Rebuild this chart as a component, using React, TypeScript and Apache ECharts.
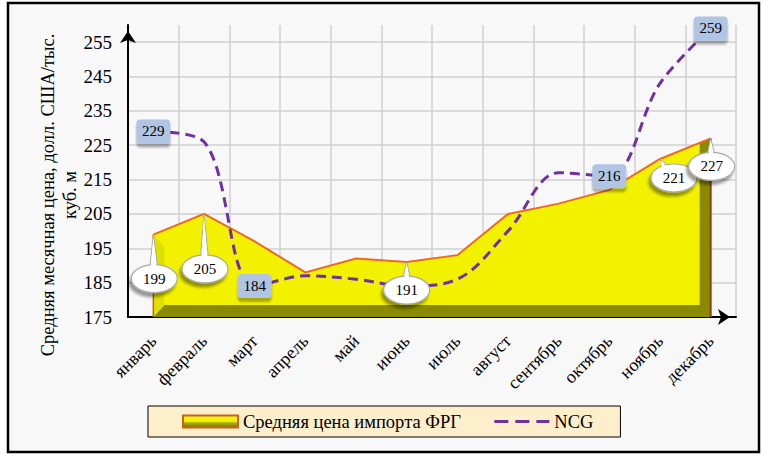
import React, { useEffect, useRef } from 'react';
import * as echarts from 'echarts';

// ---- data ----
const MONTHS = ['январь', 'февраль', 'март', 'апрель', 'май', 'июнь', 'июль', 'август', 'сентябрь', 'октябрь', 'ноябрь', 'декабрь'];
const GERMANY_IMPORT = [199, 205, 197, 188, 192, 191, 193, 205, 208, 212, 221, 227];
const NCG = [229, 226, 184, 187, 186, 184, 186, 200, 217, 216, 243, 259];
const Y_TICKS = [175, 185, 195, 205, 215, 225, 235, 245, 255];
const Y_MIN = 175;
const Y_MAX = 260;
const IMPORT_LABELED = [0, 1, 5, 10, 11];
const NCG_LABELED = [0, 2, 9, 11];
const SERIES_IMPORT = 'Средняя цена импорта ФРГ';
const SERIES_NCG = 'NCG';
const Y_TITLE = 'Средняя месячная цена, долл. США/тыс.\nкуб. м';

// ---- layout / style ----
const FONT = 'Liberation Serif';
const BUBBLE_OFFSET: Record<number, [number, number]> = {
  0: [1, 44],
  1: [1, 55],
  5: [0, 28],
  10: [14, 19],
  11: [1, 28],
};
const DEPTH_X = 11;
const DEPTH_Y = 12;
const YELLOW = '#f2f200';
const OLIVE = '#8a8a00';
const PURPLE = '#7030a0';

const legendGradient = {
  type: 'linear', x: 0, y: 0, x2: 0, y2: 1,
  colorStops: [
    { offset: 0, color: '#f8f820' },
    { offset: 0.5, color: '#eeee00' },
    { offset: 0.62, color: '#a8a800' },
    { offset: 1, color: '#7a7a00' },
  ],
};

function renderBody(params: any, api: any) {
  if (params.dataIndex !== 0) return { type: 'group', children: [] };
  const n = GERMANY_IMPORT.length;
  const pts = GERMANY_IMPORT.map((v, i) => api.coord([i, v]));
  const base = api.coord([0, Y_MIN])[1];
  const first = pts[0];
  const last = pts[n - 1];
  const prev = pts[n - 2];
  const cutX = last[0] - DEPTH_X;
  const t = (cutX - prev[0]) / (last[0] - prev[0]);
  const cutY = prev[1] + t * (last[1] - prev[1]);
  const olive = [...pts, [last[0], base], [first[0], base]];
  const yellow = [
    ...pts.slice(0, n - 1),
    [cutX, cutY],
    [cutX, base - DEPTH_Y],
    [first[0] + DEPTH_X, base - DEPTH_Y],
    [first[0], base],
  ];
  const bevel = [
    first,
    [first[0] + DEPTH_X, first[1] + DEPTH_Y],
    [first[0] + DEPTH_X, base - DEPTH_Y],
    [first[0], base],
  ];
  return {
    type: 'group',
    children: [
      { type: 'polygon', shape: { points: olive }, style: { fill: OLIVE } },
      { type: 'polygon', shape: { points: yellow }, style: { fill: YELLOW } },
      { type: 'polygon', shape: { points: bevel }, style: { fill: '#e0e000' } },
      { type: 'line', shape: { x1: last[0], y1: last[1], x2: last[0], y2: base }, style: { stroke: '#8b3f10', lineWidth: 2 } },
      { type: 'line', shape: { x1: first[0], y1: first[1], x2: first[0], y2: base }, style: { stroke: '#c8601a', lineWidth: 1.5 } },
      { type: 'polyline', shape: { points: pts }, style: { stroke: '#ec6a1e', lineWidth: 2, fill: 'none' } },
    ],
  };
}

function renderBubble(params: any, api: any) {
  const idx = api.value(0) as number;
  const val = api.value(1) as number;
  const [px, py] = api.coord([idx, val]);
  const off = BUBBLE_OFFSET[idx] || [0, 30];
  const cx = px + off[0];
  const cy = py + off[1];
  const rx = 23;
  const ry = 14;
  const bx = cx + (px - cx) * 0.55;
  const by = cy - ry * Math.sqrt(Math.max(0, 1 - ((bx - cx) / rx) ** 2)) + 3;
  return {
    type: 'group',
    children: [
      { type: 'polygon', shape: { points: [[px, py], [bx - 4, by], [bx + 4, by]] }, style: { fill: '#ffffff', stroke: '#a8a8a8', lineWidth: 1 } },
      {
        type: 'ellipse', shape: { cx, cy, rx, ry },
        style: { fill: '#ffffff', stroke: '#a8a8a8', lineWidth: 1.2, shadowBlur: 3, shadowOffsetX: -2, shadowOffsetY: 4, shadowColor: 'rgba(0,0,0,0.4)' },
      },
      { type: 'polygon', shape: { points: [[px, py + 2], [bx - 3, by + 2], [bx + 3, by + 2]] }, style: { fill: '#ffffff' } },
      { type: 'text', style: { text: String(val), x: cx, y: cy, align: 'center', verticalAlign: 'middle', fontSize: 15, fontFamily: FONT, fill: '#000' } },
    ],
  };
}

function renderBox(params: any, api: any) {
  const idx = api.value(0) as number;
  const val = api.value(1) as number;
  const [px, py] = api.coord([idx, val]);
  const w = 34;
  const h = 24;
  return {
    type: 'group',
    children: [
      {
        type: 'rect', shape: { x: px - w / 2, y: py - h / 2, width: w, height: h, r: 4 },
        style: { fill: '#b0c4e4', shadowBlur: 2, shadowOffsetX: 0, shadowOffsetY: 4, shadowColor: 'rgba(0,0,0,0.3)' },
      },
      { type: 'text', style: { text: String(val), x: px, y: py, align: 'center', verticalAlign: 'middle', fontSize: 15, fontFamily: FONT, fill: '#000' } },
    ],
  };
}

export default function App() {
  const ref = useRef<HTMLDivElement>(null);
  useEffect(() => {
    if (!ref.current) return;
    const chart = echarts.init(ref.current, undefined, { renderer: 'svg' });
    const axisLineStyle = { color: '#000', width: 2 };
    chart.setOption({
      animation: false,
      backgroundColor: '#ffffff',
      textStyle: { fontFamily: FONT },
      graphic: [
        {
          type: 'rect', z: -100, silent: true,
          shape: { x: 8, y: 3, width: 751, height: 449 },
          style: { fill: '#f8f8f8', stroke: '#000', lineWidth: 2.5 },
        },
        {
          type: 'text', x: 59, y: 195, rotation: Math.PI / 2, silent: true,
          style: { text: Y_TITLE, align: 'center', verticalAlign: 'middle', fontSize: 18.5, fontFamily: FONT, fill: '#000', lineHeight: 22 },
        },
      ],
      grid: { left: 128, right: 32, top: 25, bottom: 150, containLabel: false },
      legend: {
        left: 148, top: 406,
        backgroundColor: '#fdefcc', borderColor: '#000', borderWidth: 1, borderRadius: 0,
        padding: [6, 27, 6, 34], itemGap: 32, itemWidth: 55, itemHeight: 12,
        selectedMode: false,
        textStyle: { fontSize: 18.5, color: '#000', fontFamily: FONT },
        data: [
          { name: SERIES_IMPORT, icon: 'rect', itemStyle: { color: legendGradient, borderColor: '#c8601a', borderWidth: 2 } },
          {
            name: SERIES_NCG,
            lineStyle: { color: PURPLE, width: 3, type: [14, 7] },
            itemStyle: { color: 'rgba(0,0,0,0)', borderColor: 'rgba(0,0,0,0)', borderWidth: 0 },
          },
        ],
      },
      xAxis: {
        type: 'category', data: MONTHS, boundaryGap: true,
        axisLine: { lineStyle: axisLineStyle, symbol: ['none', 'arrow'], symbolSize: [12, 12], symbolOffset: [0, -6] },
        axisTick: { show: false },
        axisLabel: { rotate: 45, interval: 0, fontSize: 18, color: '#000', margin: 21, fontFamily: FONT },
        splitLine: { show: true, lineStyle: { color: '#d0d0d0', width: 1.5 } },
      },
      yAxis: {
        type: 'value', min: Y_MIN, max: Y_MAX,
        axisLine: { show: true, lineStyle: axisLineStyle, symbol: ['none', 'arrow'], symbolSize: [12, 12], symbolOffset: [0, -6] },
        axisTick: { show: false, customValues: Y_TICKS },
        axisLabel: { customValues: Y_TICKS, fontSize: 19, color: '#000', margin: 16, fontFamily: FONT },
        splitLine: { show: true, lineStyle: { color: '#d0d0d0', width: 1.5 } },
      },
      series: [
        {
          type: 'custom', name: SERIES_IMPORT, z: 1,
          data: GERMANY_IMPORT.map((v, i) => [i, v]),
          encode: { x: 0, y: 1 },
          itemStyle: { color: legendGradient, borderColor: '#c8601a', borderWidth: 2 },
          renderItem: renderBody,
        },
        {
          type: 'line', name: SERIES_NCG, data: NCG, smooth: 0.35, symbol: 'none', z: 3,
          lineStyle: { color: PURPLE, width: 3, type: [10, 6] },
          itemStyle: { color: PURPLE },
        },
        {
          type: 'custom', z: 5, silent: true,
          data: IMPORT_LABELED.map((i) => [i, GERMANY_IMPORT[i]]),
          encode: { x: 0, y: 1 },
          renderItem: renderBubble,
        },
        {
          type: 'custom', z: 6, silent: true,
          data: NCG_LABELED.map((i) => [i, NCG[i]]),
          encode: { x: 0, y: 1 },
          renderItem: renderBox,
        },
      ],
    });
    return () => chart.dispose();
  }, []);
  return <div ref={ref} style={{ position: 'absolute', left: 0, top: 0, width: 768, height: 467 }} />;
}
